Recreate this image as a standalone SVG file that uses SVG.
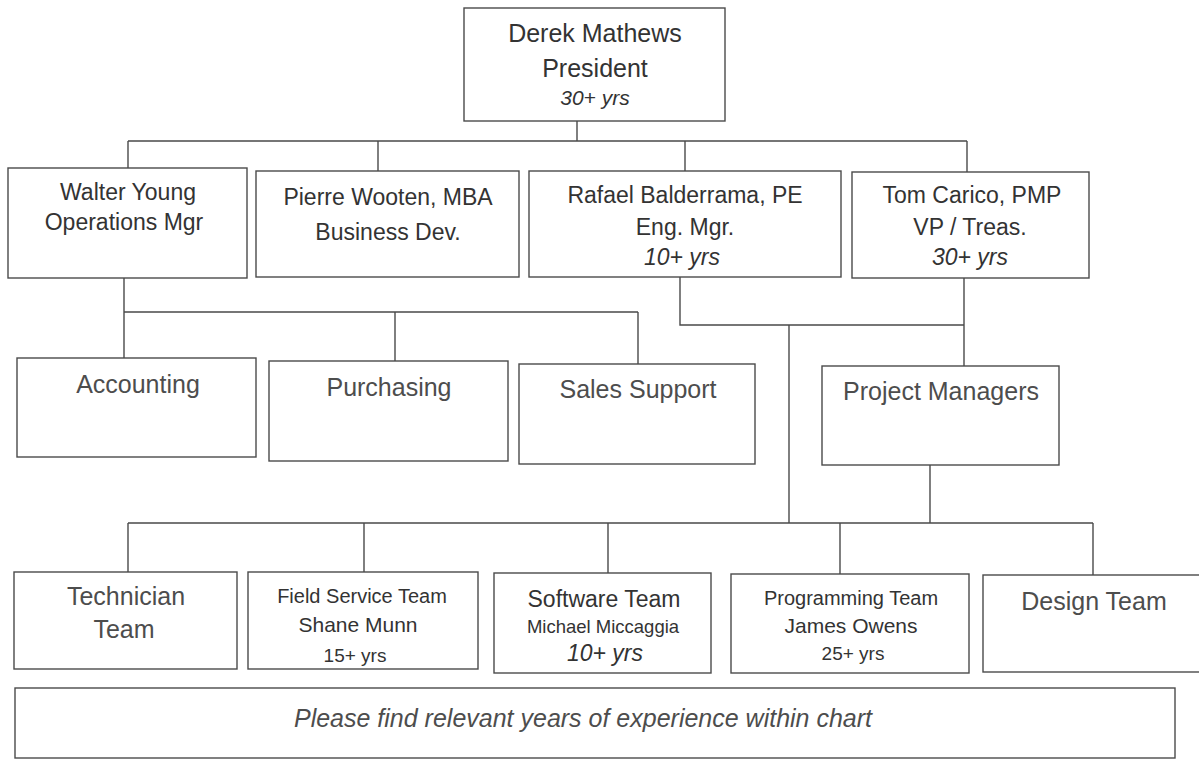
<svg xmlns="http://www.w3.org/2000/svg" width="1199" height="761" viewBox="0 0 1199 761">
<style>
  .box { fill: #ffffff; stroke: #4a4a4a; stroke-width: 1.4; }
  .ln { fill: none; stroke: #4a4a4a; stroke-width: 1.4; }
  text { font-family: "Liberation Sans", Arial, sans-serif; fill: #333333; text-anchor: middle; }
  .t25 { font-size: 25px; }
  .t23 { font-size: 23px; }
  .lt { fill: #4d4d4d; font-size: 25px; }
  .it { font-style: italic; }
</style>
<rect width="1199" height="761" fill="#ffffff"/>
<g id="connectors">
  <path class="ln" d="M577 121 V141 M128 141 H967 M128 141 V168 M378 141 V171 M685 141 V171 M967 141 V172"/>
  <path class="ln" d="M124 278 V358 M124 312 H638 M395 312 V361 M638 312 V364"/>
  <path class="ln" d="M680 277 V325 H964 M964 278 V366 M789 325 V523 M930 465 V523"/>
  <path class="ln" d="M128 523 H1093 M128 523 V572 M364 523 V572 M608 523 V573 M840 523 V574 M1093 523 V575"/>
</g>
<g id="president">
  <rect class="box" x="464" y="8" width="261" height="113"/>
  <text class="t25" x="595" y="42">Derek Mathews</text>
  <text class="t25" x="595" y="77">President</text>
  <text class="it" x="595" y="105" font-size="21">30+ yrs</text>
</g>
<g id="walter">
  <rect class="box" x="8" y="168" width="239" height="110"/>
  <text class="t23" x="128" y="200">Walter Young</text>
  <text class="t23" x="124" y="230">Operations Mgr</text>
</g>
<g id="pierre">
  <rect class="box" x="256" y="171" width="263" height="106"/>
  <text class="t23" x="388" y="205">Pierre Wooten, MBA</text>
  <text class="t23" x="388" y="240">Business Dev.</text>
</g>
<g id="rafael">
  <rect class="box" x="529" y="171" width="312" height="106"/>
  <text class="t23" x="685" y="203">Rafael Balderrama, PE</text>
  <text class="t23" x="685" y="235">Eng. Mgr.</text>
  <text class="t23 it" x="682" y="265">10+ yrs</text>
</g>
<g id="tom">
  <rect class="box" x="852" y="172" width="237" height="106"/>
  <text class="t23" x="972" y="203">Tom Carico, PMP</text>
  <text class="t23" x="970" y="235">VP / Treas.</text>
  <text class="t23 it" x="970" y="265">30+ yrs</text>
</g>
<g id="accounting">
  <rect class="box" x="17" y="358" width="239" height="99"/>
  <text class="lt" x="138" y="393">Accounting</text>
</g>
<g id="purchasing">
  <rect class="box" x="269" y="361" width="239" height="100"/>
  <text class="lt" x="389" y="396">Purchasing</text>
</g>
<g id="sales-support">
  <rect class="box" x="519" y="364" width="236" height="100"/>
  <text class="lt" x="638" y="398">Sales Support</text>
</g>
<g id="project-managers">
  <rect class="box" x="822" y="366" width="237" height="99"/>
  <text class="lt" x="941" y="400">Project Managers</text>
</g>
<g id="technician-team">
  <rect class="box" x="14" y="572" width="223" height="97"/>
  <text class="lt" x="126" y="605">Technician</text>
  <text class="lt" x="124" y="638">Team</text>
</g>
<g id="field-service-team">
  <rect class="box" x="248" y="572" width="230" height="97"/>
  <text x="362" y="603" font-size="20">Field Service Team</text>
  <text x="358" y="632" font-size="21">Shane Munn</text>
  <text x="355" y="662" font-size="19">15+ yrs</text>
</g>
<g id="software-team">
  <rect class="box" x="494" y="573" width="217" height="100"/>
  <text class="t23" x="604" y="607">Software Team</text>
  <text x="603" y="633" font-size="18.5">Michael Miccaggia</text>
  <text class="t23 it" x="605" y="661">10+ yrs</text>
</g>
<g id="programming-team">
  <rect class="box" x="731" y="574" width="238" height="99"/>
  <text x="851" y="605" font-size="20">Programming Team</text>
  <text x="851" y="633" font-size="21">James Owens</text>
  <text x="853" y="660" font-size="19">25+ yrs</text>
</g>
<g id="design-team">
  <rect class="box" x="983" y="575" width="230" height="97"/>
  <text class="lt" x="1094" y="610">Design Team</text>
</g>
<g id="footer">
  <rect class="box" x="15" y="688" width="1160" height="70"/>
  <text class="lt it" x="583" y="727">Please find relevant years of experience within chart</text>
</g>
</svg>
